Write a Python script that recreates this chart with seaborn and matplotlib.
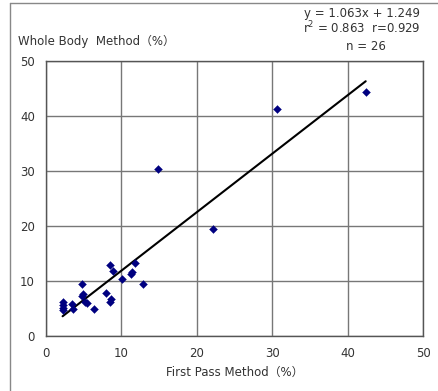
import matplotlib
matplotlib.use("Agg")
import matplotlib.pyplot as plt
import seaborn as sns
import pandas as pd
import numpy as np
from matplotlib.lines import Line2D

# Data
first_pass = [2.2, 2.2, 2.3, 2.2, 3.5, 3.6, 4.8, 4.95, 4.8, 5.2, 5.4, 6.3,
              8.5, 8.9, 8.0, 8.6, 8.5, 10.1, 11.8, 11.4, 11.3, 12.8,
              14.8, 22.2, 30.7, 42.4]
whole_body = [6.1, 5.6, 4.7, 5.1, 5.9, 5.0, 9.4, 7.6, 7.3, 6.2, 6.0, 5.0,
              12.9, 11.9, 7.9, 6.7, 6.2, 10.3, 13.2, 11.7, 11.2, 9.4,
              30.3, 19.4, 41.2, 44.3]
slope, intercept = 1.063, 1.249
ticks = [0, 10, 20, 30, 40, 50]

df = pd.DataFrame({"x": first_pass, "y": whole_body})

sns.set_style("white")
plt.rcParams["font.family"] = ["DejaVu Sans", "Noto Sans CJK JP"]

fig = plt.figure(figsize=(4.38, 3.91), dpi=100)
ax = fig.add_axes([46/438, 1-336/391, 377/438, 275/391])

ax.set_axisbelow(True)
ax.grid(True, color="#777777", linewidth=1.0)

xs = np.array([min(first_pass), max(first_pass)])
fit = pd.DataFrame({"x": xs, "y": slope*xs + intercept})
sns.lineplot(data=fit, x="x", y="y", ax=ax, color="black", linewidth=1.5, zorder=3)
sns.scatterplot(data=df, x="x", y="y", ax=ax, marker="D", s=16, color="#000080",
                edgecolor="#000080", linewidth=0.3, zorder=4)

ax.set_xlim(0, 50)
ax.set_ylim(0, 50)
ax.set_xticks(ticks)
ax.set_yticks(ticks)
ax.tick_params(axis="both", length=0, labelsize=8.5, colors="#333333")
ax.tick_params(axis="x", pad=8)
ax.tick_params(axis="y", pad=8)
for s in ax.spines.values():
    s.set_color("#555555")
    s.set_linewidth(1.0)

ax.set_xlabel("First Pass Method（%）", fontsize=8.5, color="#333333", labelpad=4)
ax.set_ylabel("")
fig.text(18/438, 1-45/391, "Whole Body  Method（%）", fontsize=8.5, color="#333333",
         ha="left", va="baseline")
fig.text(362/438, 1-17/391, "y = 1.063x + 1.249", fontsize=8.5, color="#333333",
         ha="center", va="baseline")
fig.text(362/438, 1-33/391, "r$^2$ = 0.863  r=0.929", fontsize=8.5, color="#333333",
         ha="center", va="baseline")
fig.text(366/438, 1-50/391, "n = 26", fontsize=8.5, color="#333333",
         ha="center", va="baseline")

# outer chart frame
fig.add_artist(Line2D([10/438, 10/438], [0, 1-3/391], color="#888888", linewidth=1,
                      transform=fig.transFigure))
fig.add_artist(Line2D([10/438, 1], [1-3/391, 1-3/391], color="#888888", linewidth=1,
                      transform=fig.transFigure))

fig.savefig("out.png", dpi=100)
